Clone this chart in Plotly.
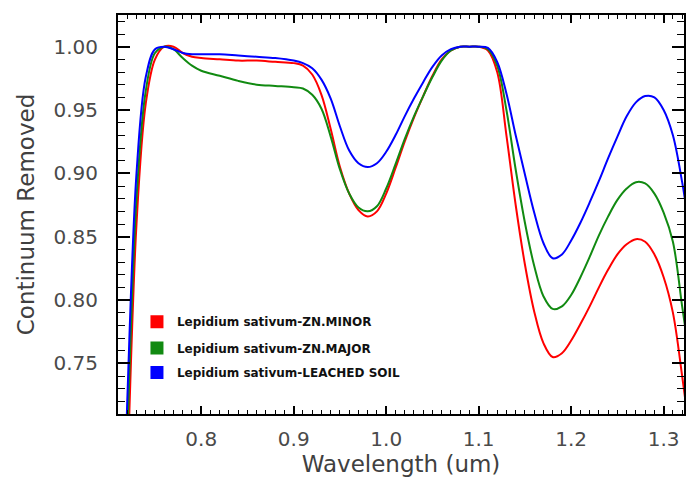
import plotly.graph_objects as go

# Wavelength samples (um)
wavelength = [0.715, 0.72, 0.73, 0.74, 0.75, 0.76, 0.77, 0.78, 0.79, 0.80, 0.82, 0.84,
              0.86, 0.88, 0.90, 0.91, 0.92, 0.93, 0.94, 0.95, 0.96, 0.97, 0.98, 0.99,
              1.00, 1.01, 1.02, 1.03, 1.04, 1.05, 1.06, 1.07, 1.08, 1.09, 1.10, 1.11,
              1.12, 1.13, 1.14, 1.15, 1.16, 1.17, 1.18, 1.19, 1.20, 1.21, 1.22, 1.23,
              1.24, 1.25, 1.26, 1.27, 1.28, 1.29, 1.30, 1.31, 1.32, 1.325]

# Continuum-removed reflectance, one list per sample
zn_minor = [0.55, 0.66, 0.86, 0.955, 0.990, 1.000, 1.000, 0.995, 0.992, 0.991, 0.990, 0.989,
            0.989, 0.988, 0.987, 0.985, 0.978, 0.962, 0.935, 0.905, 0.884, 0.871, 0.866, 0.870,
            0.884, 0.904, 0.925, 0.944, 0.961, 0.977, 0.990, 0.997, 1.000, 1.000, 1.000, 0.997,
            0.980, 0.930, 0.875, 0.828, 0.791, 0.766, 0.755, 0.758, 0.768, 0.781, 0.795, 0.810,
            0.824, 0.836, 0.844, 0.848, 0.846, 0.836, 0.818, 0.790, 0.740, 0.712]

zn_major = [0.57, 0.69, 0.88, 0.965, 0.995, 1.000, 0.998, 0.991, 0.985, 0.981, 0.977, 0.973,
            0.970, 0.969, 0.968, 0.967, 0.962, 0.951, 0.929, 0.903, 0.884, 0.873, 0.870, 0.874,
            0.888, 0.907, 0.927, 0.945, 0.961, 0.976, 0.989, 0.997, 1.000, 1.000, 1.000, 0.998,
            0.985, 0.950, 0.903, 0.861, 0.827, 0.803, 0.793, 0.795, 0.804, 0.818, 0.834, 0.851,
            0.866, 0.879, 0.888, 0.893, 0.892, 0.884, 0.869, 0.846, 0.795, 0.770]

leached_soil = [0.60, 0.72, 0.90, 0.976, 0.998, 1.000, 0.998, 0.995, 0.994, 0.994, 0.994, 0.993,
                0.992, 0.991, 0.989, 0.987, 0.983, 0.974, 0.959, 0.937, 0.918, 0.908, 0.905, 0.908,
                0.917, 0.930, 0.945, 0.959, 0.972, 0.984, 0.993, 0.998, 1.000, 1.000, 1.000, 0.999,
                0.988, 0.963, 0.930, 0.899, 0.869, 0.845, 0.833, 0.836, 0.847, 0.861, 0.877, 0.894,
                0.912, 0.929, 0.945, 0.956, 0.961, 0.960, 0.950, 0.930, 0.893, 0.870]

series_names = ["Lepidium sativum-ZN.MINOR", "Lepidium sativum-ZN.MAJOR",
                "Lepidium sativum-LEACHED SOIL"]
series_values = [zn_minor, zn_major, leached_soil]
series_colors = ["#ff0000", "#118a11", "#0000ff"]

FONT = "DejaVu Sans"

fig = go.Figure()

# spectra
for vals, col in zip(series_values, series_colors):
    fig.add_trace(go.Scatter(
        x=wavelength, y=vals, mode="lines",
        line=dict(color=col, width=2, shape="spline", smoothing=1.0),
        showlegend=False, hoverinfo="skip",
    ))

# square legend swatches, one legend per row
legend_keys = ["legend", "legend2", "legend3"]
for name, col, key in zip(series_names, series_colors, legend_keys):
    fig.add_trace(go.Scatter(
        x=[None], y=[None], mode="markers", name=name,
        marker=dict(symbol="square", size=13, color=col, line=dict(width=0)),
        legend=key, showlegend=True,
    ))

legend_style = dict(
    x=0.0335, xanchor="left", yanchor="middle",
    bgcolor="rgba(0,0,0,0)", borderwidth=0,
    font=dict(family=FONT, size=12, color="#111111", weight="bold"),
)
row_y = [0.2313, 0.1654, 0.104]

axis_common = dict(
    showline=True, linecolor="#000000", linewidth=2, mirror="allticks",
    ticks="inside", tickcolor="#000000", tickwidth=2,
    showgrid=False, zeroline=False,
    tickfont=dict(family=FONT, size=20, color="#4a4a4a"),
)

fig.update_layout(
    width=688, height=478,
    margin=dict(l=118, r=2, t=15, b=64),
    paper_bgcolor="white", plot_bgcolor="white",
    xaxis=dict(
        **axis_common,
        range=[0.710, 1.322], tick0=0, dtick=0.1, tickformat=".1f", ticklen=8,
        minor=dict(ticks="inside", dtick=0.01, ticklen=4, tickwidth=1, tickcolor="#000000"),
        ticklabelstandoff=6,
        title=dict(text="Wavelength (um)", standoff=6,
                   font=dict(family=FONT, size=23, color="#404040")),
    ),
    yaxis=dict(
        **axis_common,
        range=[0.71, 1.025], tick0=0, dtick=0.05, tickformat=".2f", ticklen=12,
        minor=dict(ticks="inside", dtick=0.01, ticklen=7, tickwidth=1, tickcolor="#000000"),
        ticklabelstandoff=14,
        title=dict(text="Continuum Removed", standoff=12,
                   font=dict(family=FONT, size=23, color="#404040")),
    ),
    legend=dict(**legend_style, y=row_y[0]),
    legend2=dict(**legend_style, y=row_y[1]),
    legend3=dict(**legend_style, y=row_y[2]),
)

fig.write_html("out.html")
